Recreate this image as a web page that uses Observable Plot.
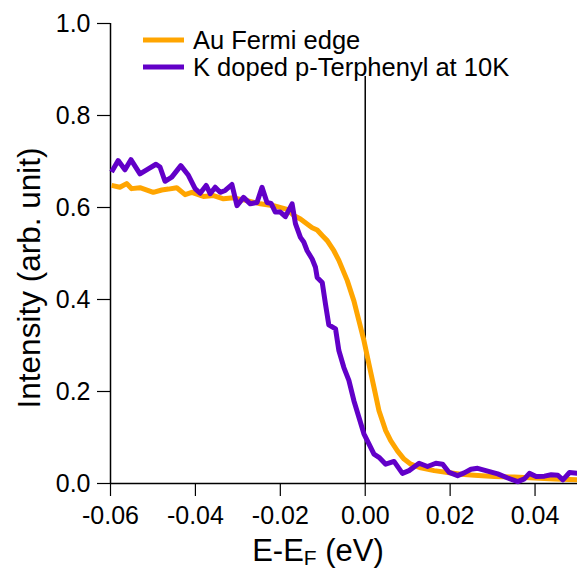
<!DOCTYPE html>
<html>
<head>
<meta charset="utf-8">
<script src="https://cdn.jsdelivr.net/npm/d3@7"></script>
<script src="https://cdn.jsdelivr.net/npm/@observablehq/plot@0.6"></script>
<style>
  html, body { margin: 0; padding: 0; background: #fff; }
  #chart svg { display: block; }
</style>
</head>
<body>
<div id="chart"></div>
<script>
// ---- data ----
const seriesNames = ["Au Fermi edge", "K doped p-Terphenyl at 10K"];
const seriesColors = ["#FFA500", "#6200C8"];

const auX = [-0.05975,-0.05779,-0.05620,-0.05502,-0.05306,-0.04992,-0.04793,-0.04637,-0.04439,-0.04243,-0.04085,-0.03811,-0.03574,-0.03338,-0.03102,-0.02785,-0.02471,-0.02157,-0.01840,-0.01684,-0.01526,-0.01368,-0.01250,-0.01132,-0.01013,-0.00895,-0.00739,-0.00621,-0.00423,-0.00267,-0.00149,-0.00031,0.00087,0.00206,0.00324,0.00482,0.00600,0.00758,0.00914,0.01073,0.01309,0.01623,0.01940,0.02254,0.02568,0.03040,0.03513,0.03985,0.04458,0.05018];
const auY = [0.648,0.644,0.652,0.641,0.643,0.633,0.638,0.640,0.643,0.628,0.633,0.624,0.626,0.619,0.621,0.615,0.608,0.604,0.596,0.583,0.575,0.564,0.556,0.551,0.539,0.528,0.506,0.485,0.441,0.397,0.354,0.311,0.260,0.209,0.158,0.115,0.093,0.071,0.053,0.042,0.034,0.028,0.024,0.020,0.018,0.015,0.014,0.012,0.010,0.008];

const kX = [-0.05975,-0.05819,-0.05660,-0.05519,-0.05306,-0.05110,-0.04928,-0.04834,-0.04716,-0.04557,-0.04344,-0.04165,-0.04007,-0.03889,-0.03747,-0.03652,-0.03534,-0.03416,-0.03298,-0.03140,-0.03021,-0.02866,-0.02707,-0.02549,-0.02431,-0.02313,-0.02218,-0.02117,-0.01999,-0.01880,-0.01722,-0.01644,-0.01526,-0.01448,-0.01368,-0.01250,-0.01172,-0.01132,-0.01013,-0.00936,-0.00858,-0.00699,-0.00621,-0.00503,-0.00385,-0.00267,-0.00149,-0.00031,0.00087,0.00206,0.00324,0.00482,0.00678,0.00876,0.01032,0.01269,0.01467,0.01663,0.01821,0.01977,0.02176,0.02332,0.02490,0.02648,0.02884,0.03121,0.03357,0.03593,0.03749,0.03867,0.04026,0.04222,0.04380,0.04538,0.04656,0.04812,0.05018];
const kY = [0.677,0.702,0.682,0.704,0.673,0.684,0.694,0.688,0.657,0.666,0.691,0.670,0.641,0.631,0.648,0.630,0.644,0.633,0.637,0.650,0.604,0.622,0.608,0.611,0.644,0.611,0.609,0.590,0.590,0.580,0.608,0.565,0.535,0.525,0.506,0.488,0.470,0.448,0.437,0.390,0.345,0.336,0.289,0.252,0.224,0.180,0.144,0.108,0.086,0.064,0.057,0.042,0.048,0.022,0.028,0.044,0.037,0.044,0.042,0.024,0.017,0.023,0.031,0.033,0.027,0.021,0.012,0.004,0.010,0.022,0.015,0.016,0.019,0.018,0.008,0.024,0.022];

const xTicks = [-0.06, -0.04, -0.02, 0.00, 0.02, 0.04];
const yTicks = [0.0, 0.2, 0.4, 0.6, 0.8, 1.0];
const fermiLevel = [0];
const fermiLineTop = 0.885;

// ---- build tables ----
const auData = auX.map((x, i) => ({x, y: auY[i]}));
const kData = kX.map((x, i) => ({x, y: kY[i]}));

const FONT = '"Liberation Sans", Arial, Helvetica, sans-serif';
const W = 577, H = 571;

const plot = Plot.plot({
  width: W,
  height: H,
  marginLeft: 110,
  marginRight: 0,
  marginTop: 23,
  marginBottom: 88,
  style: {fontFamily: FONT, color: "#000", background: "#fff", overflow: "visible"},
  x: {domain: [-0.06, 0.05]},
  y: {domain: [0, 1]},
  marks: [
    Plot.axisX({ticks: xTicks, tickFormat: d => d.toFixed(2), tickSize: 13, tickPadding: 10, fontSize: 25, label: null, stroke: "#000", strokeWidth: 1.2}),
    Plot.axisY({ticks: yTicks, tickFormat: d => d.toFixed(1), tickSize: 13, tickPadding: 7, fontSize: 25, label: null, stroke: "#000", strokeWidth: 1.2}),
    Plot.ruleY([0], {stroke: "#000", strokeWidth: 1.5}),
    Plot.ruleX([-0.06], {stroke: "#000", strokeWidth: 1.5}),
    Plot.ruleX(fermiLevel, {y1: 0, y2: fermiLineTop, stroke: "#000", strokeWidth: 1.5}),
    Plot.line(auData, {x: "x", y: "y", stroke: seriesColors[0], strokeWidth: 5, strokeLinejoin: "round", strokeLinecap: "butt"}),
    Plot.line(kData, {x: "x", y: "y", stroke: seriesColors[1], strokeWidth: 5, strokeLinejoin: "round", strokeLinecap: "butt"})
  ]
});

const svg = d3.select(plot);

// axis titles
svg.append("text")
  .attr("transform", "translate(40,278) rotate(-90)")
  .attr("text-anchor", "middle")
  .attr("font-family", FONT)
  .attr("font-size", 31.5)
  .attr("fill", "#000")
  .text("Intensity (arb. unit)");

const xt = svg.append("text")
  .attr("x", 318)
  .attr("y", 561)
  .attr("text-anchor", "middle")
  .attr("font-family", FONT)
  .attr("font-size", 31)
  .attr("fill", "#000");
xt.append("tspan").text("E-E");
xt.append("tspan").attr("font-size", 21).attr("dy", 4).text("F");
xt.append("tspan").attr("dy", -4).text(" (eV)");

// legend
const lg = svg.append("g").attr("font-family", FONT).attr("font-size", 25.5).attr("text-anchor", "start");
seriesNames.forEach((name, i) => {
  const cy = 40 + i * 27;
  lg.append("line").attr("x1", 143).attr("x2", 184).attr("y1", cy).attr("y2", cy)
    .attr("stroke", seriesColors[i]).attr("stroke-width", 5);
  lg.append("text").attr("x", 193).attr("y", cy).attr("dy", "0.35em").attr("text-anchor", "start").attr("fill", "#000").text(name);
});

document.getElementById("chart").appendChild(plot);
</script>
</body>
</html>
